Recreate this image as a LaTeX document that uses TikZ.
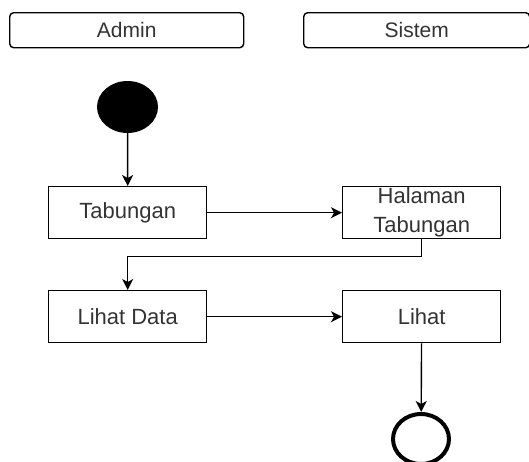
\documentclass[tikz,border=0pt]{standalone}
\usepackage{fontspec}
\setmainfont{Liberation Sans}
\usetikzlibrary{arrows.meta,shapes.geometric}
\definecolor{txt}{RGB}{51,51,51}
\begin{document}
\begin{tikzpicture}[x=1pt,y=-1pt,
  lane/.style={draw,rounded corners=4pt,line width=1.4pt,minimum width=234pt,minimum height=35pt,inner sep=0pt,font=\fontsize{21}{24}\selectfont,text=txt,anchor=north west},
  act/.style={draw,line width=1.4pt,minimum width=158pt,minimum height=52pt,inner sep=0pt,align=center,font=\fontsize{22}{29}\selectfont,text=txt,anchor=north west},
  flow/.style={line width=1.4pt,-{Stealth[length=11pt,width=11pt,inset=3pt]}}]
\useasboundingbox (0,0) rectangle (529,461);
\node[lane] (admin) at (9,12) {Admin};
\node[lane,minimum width=226pt] (sistem) at (303,12) {Sistem};
\node[ellipse,fill=black,minimum width=61pt,minimum height=52pt,inner sep=0pt] (start) at (127.5,107) {};
\node[act] (tab) at (48,186) {Tabungan};
\node[act] (hal) at (342,186) {Halaman\\Tabungan};
\node[act] (lihatdata) at (48,290) {Lihat Data};
\node[act] (lihat) at (342,290) {Lihat};
\node[ellipse,draw,line width=4pt,minimum width=56pt,minimum height=50pt,inner sep=0pt] (end) at (421,439) {};
\draw[flow] (start) -- (tab);
\draw[flow] (tab) -- (hal);
\draw[flow] (hal.south) -- ++(0,17) -| (lihatdata.north);
\draw[flow] (lihatdata) -- (lihat);
\draw[flow] (lihat) -- (end);
\end{tikzpicture}
\end{document}
